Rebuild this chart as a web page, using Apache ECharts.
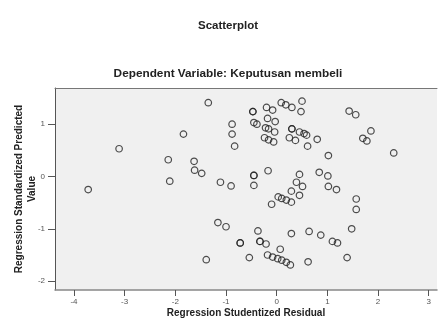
<!DOCTYPE html>
<html>
<head>
<meta charset="utf-8">
<script src="https://cdn.jsdelivr.net/npm/echarts@6/dist/echarts.min.js"></script>
<style>
  html, body { margin: 0; padding: 0; background: #fff; }
  #main { width: 441px; height: 322px; }
</style>
</head>
<body>
<div id="main"></div>
<script>
// studentized residuals (x) and standardized predicted values (y)
var residual = [
  -3.72, -3.11, -2.14, -2.11, -1.84, -1.35, -0.47, -0.47, -0.45, -0.39,
  -0.88, -0.88, -0.83, -1.63, -1.62, -1.48, -0.45, -0.45, -1.11, -0.90,
  -0.45, -1.16, -1.00, -0.37, -0.72, -0.72, -0.33, -0.33, -0.21, -0.54,
  -1.39, 0.09, 0.18, 0.30, 0.50, 0.48, -0.20, -0.08, -0.18, -0.03,
  -0.22, -0.16, -0.04, 0.30, 0.30, 0.45, 0.54, 0.59, 0.80, -0.24,
  -0.16, -0.06, 0.25, 0.37, 0.61, 1.02, -0.17, 0.45, 0.84, 1.01,
  0.39, 0.51, 1.02, 1.18, 0.29, 0.45, 0.03, 0.10, 0.19, 0.29,
  -0.10, 0.29, 0.64, 0.87, 1.10, 1.20, 0.07, -0.18, -0.08, 0.02,
  0.10, 0.19, 0.27, 0.62, 1.43, 1.56, 1.86, 1.70, 1.78, 2.31,
  1.57, 1.57, 1.48, 1.39
];
var predicted = [
  -0.25, 0.53, 0.32, -0.09, 0.81, 1.41, 1.24, 1.24, 1.03, 1.00,
  1.00, 0.81, 0.58, 0.29, 0.12, 0.06, 0.02, 0.02, -0.11, -0.18,
  -0.17, -0.88, -0.96, -1.04, -1.27, -1.27, -1.24, -1.24, -1.29, -1.55,
  -1.59, 1.41, 1.37, 1.32, 1.44, 1.24, 1.32, 1.27, 1.11, 1.05,
  0.93, 0.91, 0.85, 0.91, 0.91, 0.85, 0.82, 0.79, 0.71, 0.74,
  0.70, 0.66, 0.74, 0.69, 0.58, 0.40, 0.11, 0.04, 0.08, 0.01,
  -0.11, -0.19, -0.19, -0.25, -0.28, -0.36, -0.39, -0.42, -0.45, -0.49,
  -0.53, -1.09, -1.05, -1.12, -1.24, -1.27, -1.39, -1.50, -1.54, -1.57,
  -1.60, -1.64, -1.69, -1.63, 1.25, 1.18, 0.87, 0.73, 0.68, 0.45,
  -0.43, -0.63, -1.00, -1.55
];
var xTicks = [-4, -3, -2, -1, 0, 1, 2, 3];
var yTicks = [-2, -1, 0, 1];

var myChart = echarts.init(document.getElementById('main'));

var points = [];
for (var i = 0; i < residual.length; i++) {
  points.push([residual[i], predicted[i]]);
}

var font = 'Liberation Sans, Arial, sans-serif';

var option = {
  animation: false,
  backgroundColor: '#ffffff',
  title: [
    {
      text: 'Scatterplot',
      left: 223, top: 15, textAlign: 'center',
      textStyle: { fontFamily: font, fontSize: 11.5, fontWeight: 'bold', color: '#222' }
    },
    {
      text: 'Dependent Variable: Keputusan membeli',
      left: 223, top: 63, textAlign: 'center',
      textStyle: { fontFamily: font, fontSize: 11.8, fontWeight: 'bold', color: '#222' }
    }
  ],
  grid: {
    left: 55, right: 4, top: 88, bottom: 32,
    outerBoundsMode: 'none', containLabel: false,
    show: true, backgroundColor: '#f0f0f0', borderWidth: 0
  },
  xAxis: [
    {
      type: 'value', min: -4.375, max: 3.164,
      name: 'Regression Studentized Residual',
      nameLocation: 'middle', nameGap: 18, nameMoveOverlap: false,
      nameTextStyle: { fontFamily: font, fontSize: 10, fontWeight: 'bold', color: '#222' },
      splitLine: { show: false },
      axisLine: { onZero: false, lineStyle: { color: '#888', width: 1.5 } },
      axisTick: { length: 6, customValues: xTicks, lineStyle: { color: '#555' } },
      axisLabel: { customValues: xTicks, fontFamily: font, fontSize: 8, color: '#555', margin: 8 }
    },
    {
      type: 'value', position: 'top', min: -4.375, max: 3.164,
      splitLine: { show: false },
      axisLine: { show: true, onZero: false, lineStyle: { color: '#777', width: 1 } },
      axisTick: { show: false },
      axisLabel: { show: false }
    }
  ],
  yAxis: {
    type: 'value', min: -2.169, max: 1.691,
    name: 'Regression Standardized Predicted\nValue',
    nameLocation: 'middle', nameGap: 16, nameRotate: 90, nameMoveOverlap: false,
    nameTextStyle: { fontFamily: font, fontSize: 10, fontWeight: 'bold', color: '#222', lineHeight: 13 },
    splitLine: { show: false },
    axisLine: { show: true, onZero: false, lineStyle: { color: '#555', width: 1 } },
    axisTick: { show: true, length: 7, customValues: yTicks, lineStyle: { color: '#555' } },
    axisLabel: { customValues: yTicks, fontFamily: font, fontSize: 8, color: '#555', margin: 10 }
  },
  series: [
    {
      type: 'scatter',
      data: points,
      symbol: 'circle',
      symbolSize: 6.5,
      itemStyle: { color: 'transparent', borderColor: '#222', borderWidth: 1.2 }
    }
  ]
};

myChart.setOption(option);
</script>
</body>
</html>
